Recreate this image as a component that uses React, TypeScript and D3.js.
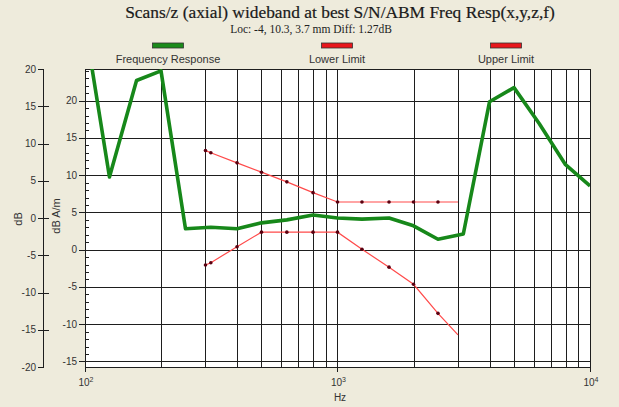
import React from "react";
import * as d3 from "d3";

const freqResponseHz = [100, 125, 160, 200, 250, 315, 400, 500, 630, 800, 1000, 1250, 1600, 2000, 2500, 3150, 4000, 5000, 6300, 8000, 10000];
const freqResponseDb = [30.2, 9.75, 22.7, 24.0, 2.8, 3.0, 2.8, 3.6, 4.0, 4.65, 4.25, 4.1, 4.25, 3.2, 1.4, 2.1, 19.85, 21.75, 16.9, 11.4, 8.55];

const limitHz = [300, 315, 400, 500, 630, 800, 1000, 1250, 1600, 2000, 2500, 3000];
const upperLimitDb = [13.3, 13.0, 11.65, 10.4, 9.1, 7.65, 6.4, 6.4, 6.4, 6.4, 6.4, 6.4];
const lowerLimitDb = [-2.05, -1.75, 0.4, 2.35, 2.35, 2.35, 2.35, 0.05, -2.35, -4.65, -8.55, -11.45];

const innerTicks = [-15, -10, -5, 0, 5, 10, 15, 20];
const outerTicks = [-20, -15, -10, -5, 0, 5, 10, 15, 20];
const decadeTicks = [100, 1000, 10000];
const decadeLabels = ["2", "3", "4"];

const W = 619;
const H = 407;
const L = 85, R = 590, T = 69, B = 367;

export default function App() {
  const x = d3.scaleLog().domain([100, 10000]).range([L, R]);
  const y = d3.scaleLinear().domain([-15.75, 24.25]).range([B, T]);
  const yOuter = d3.scaleLinear().domain([-20, 20]).range([B, T]);

  const gridX: number[] = [];
  for (const dec of [100, 1000]) {
    for (let k = 2; k <= 9; k++) gridX.push(dec * k);
    if (dec === 1000) gridX.push(1000);
  }
  const minorY = d3.range(-15, 25, 1).filter((v) => v % 5 !== 0 && y(v) >= T && y(v) <= B);

  const frLine = d3.line<number>().x((_, i) => x(freqResponseHz[i])).y((d) => y(d));
  const limLine = d3.line<number>().x((_, i) => x(limitHz[i])).y((d) => y(d));

  const grid = "#1e1e1e";
  const textCol = "#333";
  const px = (v: number) => Math.round(v) + 0.5;

  return (
    <svg width={W} height={H} style={{ position: "absolute", left: 0, top: 0, display: "block" }}>
      <defs>
        <clipPath id="plotclip">
          <rect x={L} y={T} width={R - L} height={B - T} />
        </clipPath>
      </defs>
      <rect x={0} y={0} width={W} height={H} fill="#eeebdc" />
      {/* Title */}
      <text x={340} y={18} textAnchor="middle" fontFamily="Liberation Serif, serif" fontSize={17.4} fill="#1a1a1a" stroke="#1a1a1a" strokeWidth={0.2}>
        Scans/z (axial) wideband at best S/N/ABM Freq Resp(x,y,z,f)
      </text>
      <text x={311} y={33} textAnchor="middle" fontFamily="Liberation Serif, serif" fontSize={11.5} fill="#222">
        Loc: -4, 10.3, 3.7 mm Diff: 1.27dB
      </text>
      {/* Legend */}
      {[
        { cx: 168, label: "Frequency Response", color: "#1a8a1a" },
        { cx: 337, label: "Lower Limit", color: "#e8161c" },
        { cx: 506, label: "Upper Limit", color: "#e8161c" },
      ].map((l) => (
        <g key={l.label}>
          <rect x={l.cx - 15.5} y={43} width={31} height={5} fill={l.color} stroke="#333" strokeWidth={0.8} />
          <text x={l.cx} y={63} textAnchor="middle" fontFamily="Liberation Sans, Arial, sans-serif" fontSize={11} fill="#333">
            {l.label}
          </text>
        </g>
      ))}
      {/* Plot background */}
      <rect x={L} y={T} width={R - L} height={B - T} fill="#ffffff" />
      {/* grid */}
      {gridX.map((f) => (
        <line key={"gx" + f} x1={px(x(f))} x2={px(x(f))} y1={T} y2={B} stroke={grid} strokeWidth={1} />
      ))}
      {innerTicks.map((v) => (
        <line key={"gy" + v} x1={L - 6} x2={R} y1={px(y(v))} y2={px(y(v))} stroke={grid} strokeWidth={1} />
      ))}
      {minorY.map((v) => (
        <line key={"my" + v} x1={L} x2={L + 4} y1={px(y(v))} y2={px(y(v))} stroke={grid} strokeWidth={1} />
      ))}
      <rect x={L + 0.5} y={T + 0.5} width={R - L} height={B - T} fill="none" stroke={grid} strokeWidth={1} />
      {/* x decade ticks */}
      {decadeTicks.map((f, i) => (
        <g key={"xt" + f}>
          <line x1={px(x(f))} x2={px(x(f))} y1={B - 7} y2={B + 5} stroke={grid} strokeWidth={1} />
          <text x={x(f) + 1} y={386} textAnchor="middle" fontFamily="Liberation Sans, Arial, sans-serif" fontSize={10} fill={textCol}>
            10<tspan dy={-4} fontSize={7}>{decadeLabels[i]}</tspan>
          </text>
        </g>
      ))}
      <text x={340} y={401} textAnchor="middle" fontFamily="Liberation Sans, Arial, sans-serif" fontSize={10} fill={textCol}>
        Hz
      </text>
      {/* inner y labels */}
      {innerTicks.map((v) => (
        <text key={"yl" + v} x={77} y={y(v) + 3.5} textAnchor="end" fontFamily="Liberation Sans, Arial, sans-serif" fontSize={10} fill={textCol}>
          {v}
        </text>
      ))}
      <text transform={`translate(60,216) rotate(-90)`} textAnchor="middle" fontFamily="Liberation Sans, Arial, sans-serif" fontSize={11} fill={textCol}>
        dB A/m
      </text>
      {/* outer axis */}
      <line x1={43.5} x2={43.5} y1={T} y2={B} stroke={grid} strokeWidth={1} />
      {outerTicks.map((v) => (
        <g key={"ot" + v}>
          <line x1={38} x2={v === 20 || v === -20 ? 44 : 49} y1={px(yOuter(v))} y2={px(yOuter(v))} stroke={grid} strokeWidth={1} />
          <text x={36} y={yOuter(v) + 3.5} textAnchor="end" fontFamily="Liberation Sans, Arial, sans-serif" fontSize={10} fill={textCol}>
            {v}
          </text>
        </g>
      ))}
      <text transform={`translate(22,219) rotate(-90)`} textAnchor="middle" fontFamily="Liberation Sans, Arial, sans-serif" fontSize={11} fill={textCol}>
        dB
      </text>
      {/* series */}
      <g clipPath="url(#plotclip)">
        <path d={limLine(upperLimitDb) || ""} fill="none" stroke="#ff4a4a" strokeWidth={1.2} />
        <path d={limLine(lowerLimitDb) || ""} fill="none" stroke="#ff4a4a" strokeWidth={1.2} />
        {upperLimitDb.slice(0, -1).map((v, i) => (
          <circle key={"u" + i} cx={x(limitHz[i])} cy={y(v)} r={1.8} fill="#5a0010" />
        ))}
        {lowerLimitDb.slice(0, -1).map((v, i) => (
          <circle key={"l" + i} cx={x(limitHz[i])} cy={y(v)} r={1.8} fill="#5a0010" />
        ))}
        <path d={frLine(freqResponseDb) || ""} fill="none" stroke="#17881a" strokeWidth={3.6} strokeLinejoin="round" />
      </g>
    </svg>
  );
}
